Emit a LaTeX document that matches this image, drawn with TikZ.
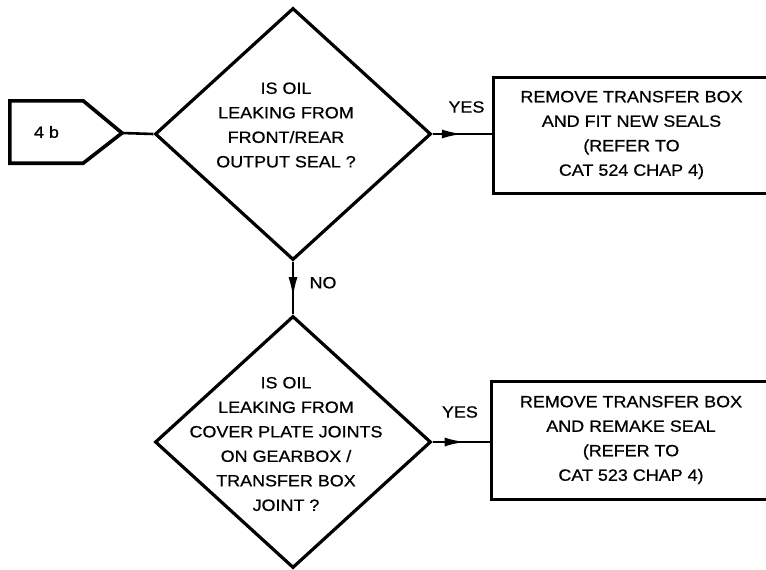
\documentclass[tikz,border=0pt]{standalone}
\usepackage{fontspec}
\newfontfamily\flowfont[FakeStretch=1.1, FakeBold=0.7]{Liberation Sans}
\usetikzlibrary{shapes.geometric,decorations.markings,arrows.meta}

\tikzset{
	decision/.style={draw, diamond, line width=3.2pt, minimum width=276pt, minimum height=252pt, inner sep=0pt},
	action/.style={draw, rectangle, line width=3pt, minimum width=280pt, minimum height=116pt, inner sep=0pt},
	caps/.style={align=center, inner sep=0pt, font=\flowfont\fontsize{16.3}{24.5}\selectfont},
	flowline/.style={line width=2.6pt, postaction={decorate},
		decoration={markings, mark=at position #1 with {\arrow{Latex[length=21pt,width=9pt]}}}},
	flowline/.default=0.55
}

\begin{document}
\begin{tikzpicture}[x=1pt, y=-1pt]
				\useasboundingbox (0,0) rectangle (766,570);
				% entry tag
				\node[caps, minimum width=73pt, minimum height=62pt] (tag) at (46.5,132) {4 b};
				\coordinate (tagtip) at (122,133);
				\draw[line width=3.6pt] (tag.north west) -- (tag.north east) -- (tagtip) -- (tag.south east) -- (tag.south west) -- cycle;
				% questions
				\node[decision] (Q1) at (293,134) {};
				\node[caps] (Q1text) at (286,125) {IS OIL\\LEAKING FROM\\FRONT/REAR\\OUTPUT SEAL ?};
				\node[decision] (Q2) at (293,442) {};
				\node[caps] (Q2text) at (286,444) {IS OIL\\LEAKING FROM\\COVER PLATE JOINTS\\ON GEARBOX /\\TRANSFER BOX\\JOINT ?};
				% actions
				\node[action, caps, minimum width=276pt, minimum height=116pt] (FIX1) at (631.5,135) {REMOVE TRANSFER BOX\\AND FIT NEW SEALS\\(REFER TO\\CAT 524 CHAP 4)};
				\node[action, caps, minimum width=280pt, minimum height=118pt] (FIX2) at (631,440) {REMOVE TRANSFER BOX\\AND REMAKE SEAL\\(REFER TO\\CAT 523 CHAP 4)};
				% connectors
				\draw[line width=2.6pt] (tagtip) -- (Q1.west);
				\draw[flowline=0.51] (Q1.east) -- (FIX1.west |- Q1.east) node[caps, pos=0.57, yshift=27pt] {YES};
				\draw[flowline=0.69] (Q1.south) -- (Q2.north) node[caps, pos=0.4, xshift=30pt] {NO};
				\draw[flowline=0.58] (Q2.east) -- (FIX2.west |- Q2.east) node[caps, pos=0.48, yshift=30pt] {YES};
			\end{tikzpicture}
\end{document}
